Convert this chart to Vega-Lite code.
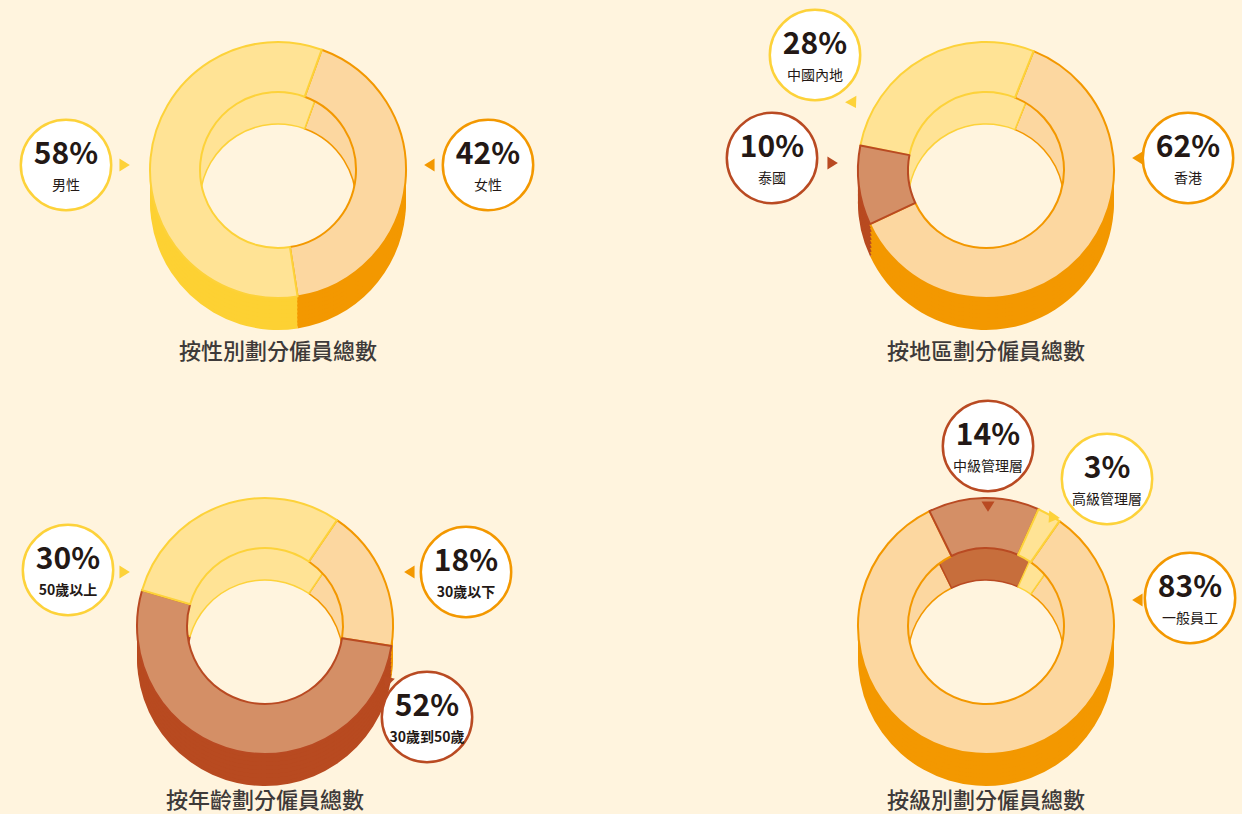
{
  "$schema": "https://vega.github.io/schema/vega-lite/v6.json",
  "background": "#FFF4DE",
  "padding": {"left": 0, "top": 0, "right": 0, "bottom": 24},
  "bounds": "flush",
  "columns": 2,
  "spacing": {"row": 136, "column": 174},
  "config": {
    "view": {"stroke": null},
    "font": "Noto Sans CJK TC",
    "title": {"font": "Noto Sans CJK TC", "fontSize": 22, "fontWeight": 500, "color": "#3E3A39", "anchor": "middle", "baseline": "top"}
  },
  "datasets": {
    "gender": [
      {"category": "女性", "share": 0.42},
      {"category": "男性", "share": 0.58}
    ],
    "region": [
      {"category": "香港", "share": 0.62},
      {"category": "中國內地", "share": 0.28},
      {"category": "泰國", "share": 0.10}
    ],
    "age": [
      {"category": "30歲以下", "share": 0.18},
      {"category": "30歲到50歲", "share": 0.52},
      {"category": "50歲以上", "share": 0.30}
    ],
    "level": [
      {"category": "一般員工", "share": 0.83},
      {"category": "中級管理層", "share": 0.14},
      {"category": "高級管理層", "share": 0.03}
    ]
  },
  "concat": [
    {
      "width": 556, "height": 340,
      "data": {"name": "gender"},
      "title": {"text": "按性別劃分僱員總數", "orient": "bottom", "offset": 2},
      "resolve": {"scale": {"fill": "independent", "stroke": "independent", "x": "independent", "y": "independent", "shape": "independent"}},
      "layer": [
        {"mark": {"type": "arc", "outerRadius": 110, "innerRadius": 78, "yOffset": 32, "strokeWidth": 1.5},
         "encoding": {"theta": {"field": "share", "type": "quantitative", "stack": true, "scale": {"range": [0.349, 6.632]}}, "order": {"field": "share", "sort": "ascending"},
           "fill": {"field": "category", "type": "nominal", "scale": {"domain": ["男性", "女性"], "range": ["#FFE395", "#FCD7A0"]}, "legend": null},
           "stroke": {"field": "category", "type": "nominal", "scale": {"domain": ["男性", "女性"], "range": ["#FDD23A", "#F39800"]}, "legend": null}}},
        {"mark": {"type": "arc", "outerRadius": 128, "innerRadius": 110, "yOffset": 32},
         "encoding": {"theta": {"field": "share", "type": "quantitative", "stack": true, "scale": {"range": [0.349, 6.632]}}, "order": {"field": "share", "sort": "ascending"},
           "fill": {"field": "category", "type": "nominal", "scale": {"domain": ["男性", "女性"], "range": ["#FDD133", "#F39800"]}, "legend": null}}},
        {"mark": {"type": "arc", "outerRadius": 128, "innerRadius": 106, "yOffset": 28},
         "encoding": {"theta": {"field": "share", "type": "quantitative", "stack": true, "scale": {"range": [0.349, 6.632]}}, "order": {"field": "share", "sort": "ascending"},
           "fill": {"field": "category", "type": "nominal", "scale": {"domain": ["男性", "女性"], "range": ["#FDD133", "#F39800"]}, "legend": null}}},
        {"mark": {"type": "arc", "outerRadius": 128, "innerRadius": 102, "yOffset": 24},
         "encoding": {"theta": {"field": "share", "type": "quantitative", "stack": true, "scale": {"range": [0.349, 6.632]}}, "order": {"field": "share", "sort": "ascending"},
           "fill": {"field": "category", "type": "nominal", "scale": {"domain": ["男性", "女性"], "range": ["#FDD133", "#F39800"]}, "legend": null}}},
        {"mark": {"type": "arc", "outerRadius": 128, "innerRadius": 98, "yOffset": 20},
         "encoding": {"theta": {"field": "share", "type": "quantitative", "stack": true, "scale": {"range": [0.349, 6.632]}}, "order": {"field": "share", "sort": "ascending"},
           "fill": {"field": "category", "type": "nominal", "scale": {"domain": ["男性", "女性"], "range": ["#FDD133", "#F39800"]}, "legend": null}}},
        {"mark": {"type": "arc", "outerRadius": 128, "innerRadius": 94, "yOffset": 16},
         "encoding": {"theta": {"field": "share", "type": "quantitative", "stack": true, "scale": {"range": [0.349, 6.632]}}, "order": {"field": "share", "sort": "ascending"},
           "fill": {"field": "category", "type": "nominal", "scale": {"domain": ["男性", "女性"], "range": ["#FDD133", "#F39800"]}, "legend": null}}},
        {"mark": {"type": "arc", "outerRadius": 128, "innerRadius": 90, "yOffset": 12},
         "encoding": {"theta": {"field": "share", "type": "quantitative", "stack": true, "scale": {"range": [0.349, 6.632]}}, "order": {"field": "share", "sort": "ascending"},
           "fill": {"field": "category", "type": "nominal", "scale": {"domain": ["男性", "女性"], "range": ["#FDD133", "#F39800"]}, "legend": null}}},
        {"mark": {"type": "arc", "outerRadius": 128, "innerRadius": 86, "yOffset": 8},
         "encoding": {"theta": {"field": "share", "type": "quantitative", "stack": true, "scale": {"range": [0.349, 6.632]}}, "order": {"field": "share", "sort": "ascending"},
           "fill": {"field": "category", "type": "nominal", "scale": {"domain": ["男性", "女性"], "range": ["#FDD133", "#F39800"]}, "legend": null}}},
        {"mark": {"type": "arc", "outerRadius": 128, "innerRadius": 82, "yOffset": 4},
         "encoding": {"theta": {"field": "share", "type": "quantitative", "stack": true, "scale": {"range": [0.349, 6.632]}}, "order": {"field": "share", "sort": "ascending"},
           "fill": {"field": "category", "type": "nominal", "scale": {"domain": ["男性", "女性"], "range": ["#FDD133", "#F39800"]}, "legend": null}}},
        {"mark": {"type": "arc", "outerRadius": 128, "innerRadius": 78, "strokeWidth": 2, "strokeJoin": "round"},
         "encoding": {"theta": {"field": "share", "type": "quantitative", "stack": true, "scale": {"range": [0.349, 6.632]}}, "order": {"field": "share", "sort": "ascending"},
           "fill": {"field": "category", "type": "nominal", "scale": {"domain": ["男性", "女性"], "range": ["#FFE395", "#FCD7A0"]}, "legend": null},
           "stroke": {"field": "category", "type": "nominal", "scale": {"domain": ["男性", "女性"], "range": ["#FDD23A", "#F39800"]}, "legend": null}}},
        {"mark": {"type": "point", "filled": true, "size": 170, "opacity": 1},
         "encoding": {
           "x": {"field": "share", "type": "quantitative", "scale": {"domain": [0.42, 0.58], "range": [430, 124], "zero": false, "nice": false}, "axis": null},
           "y": {"field": "share", "type": "quantitative", "scale": {"domain": [0.42, 0.58], "range": [165, 165], "zero": false, "nice": false}, "axis": null},
           "shape": {"field": "category", "type": "nominal", "scale": {"domain": ["男性", "女性"], "range": ["M-0.7,-1L0.9,0L-0.7,1Z", "M0.7,-1L-0.9,0L0.7,1Z"]}, "legend": null},
           "fill": {"field": "category", "type": "nominal", "scale": {"domain": ["男性", "女性"], "range": ["#FDD23A", "#F39800"]}, "legend": null}}},
        {"mark": {"type": "point", "shape": "circle", "filled": true, "fill": "#FFFFFF", "size": 8171, "strokeWidth": 2.5, "opacity": 1},
         "encoding": {
           "x": {"field": "share", "type": "quantitative", "scale": {"domain": [0.42, 0.58], "range": [488, 66], "zero": false, "nice": false}, "axis": null},
           "y": {"field": "share", "type": "quantitative", "scale": {"domain": [0.42, 0.58], "range": [165, 165], "zero": false, "nice": false}, "axis": null},
           "stroke": {"field": "category", "type": "nominal", "scale": {"domain": ["男性", "女性"], "range": ["#FDD23A", "#F39800"]}, "legend": null}}},
        {"mark": {"type": "text", "fontSize": 30, "fontWeight": "bold", "color": "#231815", "dy": -10, "align": "center", "baseline": "middle"},
         "encoding": {
           "x": {"field": "share", "type": "quantitative", "scale": {"domain": [0.42, 0.58], "range": [488, 66], "zero": false, "nice": false}, "axis": null},
           "y": {"field": "share", "type": "quantitative", "scale": {"domain": [0.42, 0.58], "range": [165, 165], "zero": false, "nice": false}, "axis": null},
           "text": {"field": "share", "type": "quantitative", "format": ".0%"}}},
        {"mark": {"type": "text", "fontSize": 14, "color": "#231815", "dy": 21, "align": "center", "baseline": "middle"},
         "encoding": {
           "x": {"field": "share", "type": "quantitative", "scale": {"domain": [0.42, 0.58], "range": [488, 66], "zero": false, "nice": false}, "axis": null},
           "y": {"field": "share", "type": "quantitative", "scale": {"domain": [0.42, 0.58], "range": [165, 165], "zero": false, "nice": false}, "axis": null},
           "text": {"field": "category", "type": "nominal"}}}
      ]
    },
    {
      "width": 512, "height": 340,
      "data": {"name": "region"},
      "title": {"text": "按地區劃分僱員總數", "orient": "bottom", "offset": 2},
      "resolve": {"scale": {"fill": "independent", "stroke": "independent", "x": "independent", "y": "independent", "shape": "independent"}},
      "layer": [
        {"mark": {"type": "arc", "outerRadius": 110, "innerRadius": 78, "yOffset": 32, "strokeWidth": 1.5},
         "encoding": {"theta": {"field": "share", "type": "quantitative", "stack": true, "scale": {"range": [-2.007, 4.276]}}, "order": {"field": "share", "sort": "ascending"},
           "fill": {"field": "category", "type": "nominal", "scale": {"domain": ["香港", "中國內地", "泰國"], "range": ["#FCD7A0", "#FFE395", "#C76E3C"]}, "legend": null},
           "stroke": {"field": "category", "type": "nominal", "scale": {"domain": ["香港", "中國內地", "泰國"], "range": ["#F39800", "#FDD23A", "#B94A22"]}, "legend": null}}},
        {"mark": {"type": "arc", "outerRadius": 128, "innerRadius": 110, "yOffset": 32},
         "encoding": {"theta": {"field": "share", "type": "quantitative", "stack": true, "scale": {"range": [-2.007, 4.276]}}, "order": {"field": "share", "sort": "ascending"},
           "fill": {"field": "category", "type": "nominal", "scale": {"domain": ["香港", "中國內地", "泰國"], "range": ["#F39800", "#FDD133", "#B84A20"]}, "legend": null}}},
        {"mark": {"type": "arc", "outerRadius": 128, "innerRadius": 106, "yOffset": 28},
         "encoding": {"theta": {"field": "share", "type": "quantitative", "stack": true, "scale": {"range": [-2.007, 4.276]}}, "order": {"field": "share", "sort": "ascending"},
           "fill": {"field": "category", "type": "nominal", "scale": {"domain": ["香港", "中國內地", "泰國"], "range": ["#F39800", "#FDD133", "#B84A20"]}, "legend": null}}},
        {"mark": {"type": "arc", "outerRadius": 128, "innerRadius": 102, "yOffset": 24},
         "encoding": {"theta": {"field": "share", "type": "quantitative", "stack": true, "scale": {"range": [-2.007, 4.276]}}, "order": {"field": "share", "sort": "ascending"},
           "fill": {"field": "category", "type": "nominal", "scale": {"domain": ["香港", "中國內地", "泰國"], "range": ["#F39800", "#FDD133", "#B84A20"]}, "legend": null}}},
        {"mark": {"type": "arc", "outerRadius": 128, "innerRadius": 98, "yOffset": 20},
         "encoding": {"theta": {"field": "share", "type": "quantitative", "stack": true, "scale": {"range": [-2.007, 4.276]}}, "order": {"field": "share", "sort": "ascending"},
           "fill": {"field": "category", "type": "nominal", "scale": {"domain": ["香港", "中國內地", "泰國"], "range": ["#F39800", "#FDD133", "#B84A20"]}, "legend": null}}},
        {"mark": {"type": "arc", "outerRadius": 128, "innerRadius": 94, "yOffset": 16},
         "encoding": {"theta": {"field": "share", "type": "quantitative", "stack": true, "scale": {"range": [-2.007, 4.276]}}, "order": {"field": "share", "sort": "ascending"},
           "fill": {"field": "category", "type": "nominal", "scale": {"domain": ["香港", "中國內地", "泰國"], "range": ["#F39800", "#FDD133", "#B84A20"]}, "legend": null}}},
        {"mark": {"type": "arc", "outerRadius": 128, "innerRadius": 90, "yOffset": 12},
         "encoding": {"theta": {"field": "share", "type": "quantitative", "stack": true, "scale": {"range": [-2.007, 4.276]}}, "order": {"field": "share", "sort": "ascending"},
           "fill": {"field": "category", "type": "nominal", "scale": {"domain": ["香港", "中國內地", "泰國"], "range": ["#F39800", "#FDD133", "#B84A20"]}, "legend": null}}},
        {"mark": {"type": "arc", "outerRadius": 128, "innerRadius": 86, "yOffset": 8},
         "encoding": {"theta": {"field": "share", "type": "quantitative", "stack": true, "scale": {"range": [-2.007, 4.276]}}, "order": {"field": "share", "sort": "ascending"},
           "fill": {"field": "category", "type": "nominal", "scale": {"domain": ["香港", "中國內地", "泰國"], "range": ["#F39800", "#FDD133", "#B84A20"]}, "legend": null}}},
        {"mark": {"type": "arc", "outerRadius": 128, "innerRadius": 82, "yOffset": 4},
         "encoding": {"theta": {"field": "share", "type": "quantitative", "stack": true, "scale": {"range": [-2.007, 4.276]}}, "order": {"field": "share", "sort": "ascending"},
           "fill": {"field": "category", "type": "nominal", "scale": {"domain": ["香港", "中國內地", "泰國"], "range": ["#F39800", "#FDD133", "#B84A20"]}, "legend": null}}},
        {"mark": {"type": "arc", "outerRadius": 128, "innerRadius": 78, "strokeWidth": 2, "strokeJoin": "round"},
         "encoding": {"theta": {"field": "share", "type": "quantitative", "stack": true, "scale": {"range": [-2.007, 4.276]}}, "order": {"field": "share", "sort": "ascending"},
           "fill": {"field": "category", "type": "nominal", "scale": {"domain": ["香港", "中國內地", "泰國"], "range": ["#FCD7A0", "#FFE395", "#D48F66"]}, "legend": null},
           "stroke": {"field": "category", "type": "nominal", "scale": {"domain": ["香港", "中國內地", "泰國"], "range": ["#F39800", "#FDD23A", "#B94A22"]}, "legend": null}}},
        {"mark": {"type": "point", "filled": true, "size": 170, "opacity": 1},
         "encoding": {
           "x": {"field": "share", "type": "quantitative", "scale": {"domain": [0.10, 0.28, 0.62], "range": [102, 123, 408], "zero": false, "nice": false}, "axis": null},
           "y": {"field": "share", "type": "quantitative", "scale": {"domain": [0.10, 0.28, 0.62], "range": [163, 103, 158], "zero": false, "nice": false}, "axis": null},
           "shape": {"field": "category", "type": "nominal", "scale": {"domain": ["香港", "中國內地", "泰國"], "range": ["M0.7,-1L-0.9,0L0.7,1Z", "M0.45,0.78L-1.22,-0.11L0.52,-1.11Z", "M-0.7,-1L0.9,0L-0.7,1Z"]}, "legend": null},
           "fill": {"field": "category", "type": "nominal", "scale": {"domain": ["香港", "中國內地", "泰國"], "range": ["#F39800", "#FDD23A", "#B94A22"]}, "legend": null}}},
        {"mark": {"type": "point", "shape": "circle", "filled": true, "fill": "#FFFFFF", "size": 8171, "strokeWidth": 2.5, "opacity": 1},
         "encoding": {
           "x": {"field": "share", "type": "quantitative", "scale": {"domain": [0.10, 0.28, 0.62], "range": [42, 85, 458], "zero": false, "nice": false}, "axis": null},
           "y": {"field": "share", "type": "quantitative", "scale": {"domain": [0.10, 0.28, 0.62], "range": [158, 55, 158], "zero": false, "nice": false}, "axis": null},
           "stroke": {"field": "category", "type": "nominal", "scale": {"domain": ["香港", "中國內地", "泰國"], "range": ["#F39800", "#FDD23A", "#B94A22"]}, "legend": null}}},
        {"mark": {"type": "text", "fontSize": 30, "fontWeight": "bold", "color": "#231815", "dy": -10, "align": "center", "baseline": "middle"},
         "encoding": {
           "x": {"field": "share", "type": "quantitative", "scale": {"domain": [0.10, 0.28, 0.62], "range": [42, 85, 458], "zero": false, "nice": false}, "axis": null},
           "y": {"field": "share", "type": "quantitative", "scale": {"domain": [0.10, 0.28, 0.62], "range": [158, 55, 158], "zero": false, "nice": false}, "axis": null},
           "text": {"field": "share", "type": "quantitative", "format": ".0%"}}},
        {"mark": {"type": "text", "fontSize": 14, "color": "#231815", "dy": 21, "align": "center", "baseline": "middle"},
         "encoding": {
           "x": {"field": "share", "type": "quantitative", "scale": {"domain": [0.10, 0.28, 0.62], "range": [42, 85, 458], "zero": false, "nice": false}, "axis": null},
           "y": {"field": "share", "type": "quantitative", "scale": {"domain": [0.10, 0.28, 0.62], "range": [158, 55, 158], "zero": false, "nice": false}, "axis": null},
           "text": {"field": "category", "type": "nominal"}}}
      ]
    },
    {
      "width": 530, "height": 300,
      "data": {"name": "age"},
      "title": {"text": "按年齡劃分僱員總數", "orient": "bottom", "offset": 5},
      "resolve": {"scale": {"fill": "independent", "stroke": "independent", "x": "independent", "y": "independent", "shape": "independent"}},
      "layer": [
        {"mark": {"type": "arc", "outerRadius": 110, "innerRadius": 78, "yOffset": 32, "strokeWidth": 1.5},
         "encoding": {"theta": {"field": "share", "type": "quantitative", "stack": true, "scale": {"range": [1.728, 8.011]}}, "order": {"field": "share", "sort": "descending"},
           "fill": {"field": "category", "type": "nominal", "scale": {"domain": ["30歲以下", "30歲到50歲", "50歲以上"], "range": ["#FCD7A0", "#C76E3C", "#FFE395"]}, "legend": null},
           "stroke": {"field": "category", "type": "nominal", "scale": {"domain": ["30歲以下", "30歲到50歲", "50歲以上"], "range": ["#F39800", "#B94A22", "#FDD23A"]}, "legend": null}}},
        {"mark": {"type": "arc", "outerRadius": 128, "innerRadius": 110, "yOffset": 32},
         "encoding": {"theta": {"field": "share", "type": "quantitative", "stack": true, "scale": {"range": [1.728, 8.011]}}, "order": {"field": "share", "sort": "descending"},
           "fill": {"field": "category", "type": "nominal", "scale": {"domain": ["30歲以下", "30歲到50歲", "50歲以上"], "range": ["#F39800", "#B84A20", "#FDD133"]}, "legend": null}}},
        {"mark": {"type": "arc", "outerRadius": 128, "innerRadius": 106, "yOffset": 28},
         "encoding": {"theta": {"field": "share", "type": "quantitative", "stack": true, "scale": {"range": [1.728, 8.011]}}, "order": {"field": "share", "sort": "descending"},
           "fill": {"field": "category", "type": "nominal", "scale": {"domain": ["30歲以下", "30歲到50歲", "50歲以上"], "range": ["#F39800", "#B84A20", "#FDD133"]}, "legend": null}}},
        {"mark": {"type": "arc", "outerRadius": 128, "innerRadius": 102, "yOffset": 24},
         "encoding": {"theta": {"field": "share", "type": "quantitative", "stack": true, "scale": {"range": [1.728, 8.011]}}, "order": {"field": "share", "sort": "descending"},
           "fill": {"field": "category", "type": "nominal", "scale": {"domain": ["30歲以下", "30歲到50歲", "50歲以上"], "range": ["#F39800", "#B84A20", "#FDD133"]}, "legend": null}}},
        {"mark": {"type": "arc", "outerRadius": 128, "innerRadius": 98, "yOffset": 20},
         "encoding": {"theta": {"field": "share", "type": "quantitative", "stack": true, "scale": {"range": [1.728, 8.011]}}, "order": {"field": "share", "sort": "descending"},
           "fill": {"field": "category", "type": "nominal", "scale": {"domain": ["30歲以下", "30歲到50歲", "50歲以上"], "range": ["#F39800", "#B84A20", "#FDD133"]}, "legend": null}}},
        {"mark": {"type": "arc", "outerRadius": 128, "innerRadius": 94, "yOffset": 16},
         "encoding": {"theta": {"field": "share", "type": "quantitative", "stack": true, "scale": {"range": [1.728, 8.011]}}, "order": {"field": "share", "sort": "descending"},
           "fill": {"field": "category", "type": "nominal", "scale": {"domain": ["30歲以下", "30歲到50歲", "50歲以上"], "range": ["#F39800", "#B84A20", "#FDD133"]}, "legend": null}}},
        {"mark": {"type": "arc", "outerRadius": 128, "innerRadius": 90, "yOffset": 12},
         "encoding": {"theta": {"field": "share", "type": "quantitative", "stack": true, "scale": {"range": [1.728, 8.011]}}, "order": {"field": "share", "sort": "descending"},
           "fill": {"field": "category", "type": "nominal", "scale": {"domain": ["30歲以下", "30歲到50歲", "50歲以上"], "range": ["#F39800", "#B84A20", "#FDD133"]}, "legend": null}}},
        {"mark": {"type": "arc", "outerRadius": 128, "innerRadius": 86, "yOffset": 8},
         "encoding": {"theta": {"field": "share", "type": "quantitative", "stack": true, "scale": {"range": [1.728, 8.011]}}, "order": {"field": "share", "sort": "descending"},
           "fill": {"field": "category", "type": "nominal", "scale": {"domain": ["30歲以下", "30歲到50歲", "50歲以上"], "range": ["#F39800", "#B84A20", "#FDD133"]}, "legend": null}}},
        {"mark": {"type": "arc", "outerRadius": 128, "innerRadius": 82, "yOffset": 4},
         "encoding": {"theta": {"field": "share", "type": "quantitative", "stack": true, "scale": {"range": [1.728, 8.011]}}, "order": {"field": "share", "sort": "descending"},
           "fill": {"field": "category", "type": "nominal", "scale": {"domain": ["30歲以下", "30歲到50歲", "50歲以上"], "range": ["#F39800", "#B84A20", "#FDD133"]}, "legend": null}}},
        {"mark": {"type": "arc", "outerRadius": 128, "innerRadius": 78, "strokeWidth": 2, "strokeJoin": "round"},
         "encoding": {"theta": {"field": "share", "type": "quantitative", "stack": true, "scale": {"range": [1.728, 8.011]}}, "order": {"field": "share", "sort": "descending"},
           "fill": {"field": "category", "type": "nominal", "scale": {"domain": ["30歲以下", "30歲到50歲", "50歲以上"], "range": ["#FCD7A0", "#D48F66", "#FFE395"]}, "legend": null},
           "stroke": {"field": "category", "type": "nominal", "scale": {"domain": ["30歲以下", "30歲到50歲", "50歲以上"], "range": ["#F39800", "#B94A22", "#FDD23A"]}, "legend": null}}},
        {"mark": {"type": "point", "filled": true, "size": 170, "opacity": 1},
         "encoding": {
           "x": {"field": "share", "type": "quantitative", "scale": {"domain": [0.18, 0.30, 0.52], "range": [410, 124, 387], "zero": false, "nice": false}, "axis": null},
           "y": {"field": "share", "type": "quantitative", "scale": {"domain": [0.18, 0.30, 0.52], "range": [96, 96, 204], "zero": false, "nice": false}, "axis": null},
           "shape": {"field": "category", "type": "nominal", "scale": {"domain": ["30歲以下", "30歲到50歲", "50歲以上"], "range": ["M0.7,-1L-0.9,0L0.7,1Z", "M-0.64,-0.64L1.2,-0.21L-0.21,1.2Z", "M-0.7,-1L0.9,0L-0.7,1Z"]}, "legend": null},
           "fill": {"field": "category", "type": "nominal", "scale": {"domain": ["30歲以下", "30歲到50歲", "50歲以上"], "range": ["#F39800", "#B94A22", "#FDD23A"]}, "legend": null}}},
        {"mark": {"type": "point", "shape": "circle", "filled": true, "fill": "#FFFFFF", "size": 8171, "strokeWidth": 2.5, "opacity": 1},
         "encoding": {
           "x": {"field": "share", "type": "quantitative", "scale": {"domain": [0.18, 0.30, 0.52], "range": [466, 68, 427], "zero": false, "nice": false}, "axis": null},
           "y": {"field": "share", "type": "quantitative", "scale": {"domain": [0.18, 0.30, 0.52], "range": [96, 94, 241], "zero": false, "nice": false}, "axis": null},
           "stroke": {"field": "category", "type": "nominal", "scale": {"domain": ["30歲以下", "30歲到50歲", "50歲以上"], "range": ["#F39800", "#B94A22", "#FDD23A"]}, "legend": null}}},
        {"mark": {"type": "text", "fontSize": 30, "fontWeight": "bold", "color": "#231815", "dy": -10, "align": "center", "baseline": "middle"},
         "encoding": {
           "x": {"field": "share", "type": "quantitative", "scale": {"domain": [0.18, 0.30, 0.52], "range": [466, 68, 427], "zero": false, "nice": false}, "axis": null},
           "y": {"field": "share", "type": "quantitative", "scale": {"domain": [0.18, 0.30, 0.52], "range": [96, 94, 241], "zero": false, "nice": false}, "axis": null},
           "text": {"field": "share", "type": "quantitative", "format": ".0%"}}},
        {"mark": {"type": "text", "fontSize": 14, "fontWeight": "bold", "color": "#231815", "dy": 21, "align": "center", "baseline": "middle"},
         "encoding": {
           "x": {"field": "share", "type": "quantitative", "scale": {"domain": [0.18, 0.30, 0.52], "range": [466, 68, 427], "zero": false, "nice": false}, "axis": null},
           "y": {"field": "share", "type": "quantitative", "scale": {"domain": [0.18, 0.30, 0.52], "range": [96, 94, 241], "zero": false, "nice": false}, "axis": null},
           "text": {"field": "category", "type": "nominal"}}}
      ]
    },
    {
      "width": 512, "height": 300,
      "data": {"name": "level"},
      "title": {"text": "按級別劃分僱員總數", "orient": "bottom", "offset": 5},
      "resolve": {"scale": {"fill": "independent", "stroke": "independent", "x": "independent", "y": "independent", "shape": "independent"}},
      "layer": [
        {"mark": {"type": "arc", "outerRadius": 110, "innerRadius": 78, "yOffset": 32, "strokeWidth": 1.5},
         "encoding": {"theta": {"field": "share", "type": "quantitative", "stack": true, "scale": {"range": [0.611, 6.894]}}, "order": {"field": "share", "sort": "descending"},
           "fill": {"field": "category", "type": "nominal", "scale": {"domain": ["一般員工", "中級管理層", "高級管理層"], "range": ["#FCD7A0", "#C76E3C", "#FFE395"]}, "legend": null},
           "stroke": {"field": "category", "type": "nominal", "scale": {"domain": ["一般員工", "中級管理層", "高級管理層"], "range": ["#F39800", "#B94A22", "#FDD23A"]}, "legend": null}}},
        {"mark": {"type": "arc", "outerRadius": 128, "innerRadius": 110, "yOffset": 32},
         "encoding": {"theta": {"field": "share", "type": "quantitative", "stack": true, "scale": {"range": [0.611, 6.894]}}, "order": {"field": "share", "sort": "descending"},
           "fill": {"field": "category", "type": "nominal", "scale": {"domain": ["一般員工", "中級管理層", "高級管理層"], "range": ["#F39800", "#B84A20", "#FDD133"]}, "legend": null}}},
        {"mark": {"type": "arc", "outerRadius": 128, "innerRadius": 106, "yOffset": 28},
         "encoding": {"theta": {"field": "share", "type": "quantitative", "stack": true, "scale": {"range": [0.611, 6.894]}}, "order": {"field": "share", "sort": "descending"},
           "fill": {"field": "category", "type": "nominal", "scale": {"domain": ["一般員工", "中級管理層", "高級管理層"], "range": ["#F39800", "#B84A20", "#FDD133"]}, "legend": null}}},
        {"mark": {"type": "arc", "outerRadius": 128, "innerRadius": 102, "yOffset": 24},
         "encoding": {"theta": {"field": "share", "type": "quantitative", "stack": true, "scale": {"range": [0.611, 6.894]}}, "order": {"field": "share", "sort": "descending"},
           "fill": {"field": "category", "type": "nominal", "scale": {"domain": ["一般員工", "中級管理層", "高級管理層"], "range": ["#F39800", "#B84A20", "#FDD133"]}, "legend": null}}},
        {"mark": {"type": "arc", "outerRadius": 128, "innerRadius": 98, "yOffset": 20},
         "encoding": {"theta": {"field": "share", "type": "quantitative", "stack": true, "scale": {"range": [0.611, 6.894]}}, "order": {"field": "share", "sort": "descending"},
           "fill": {"field": "category", "type": "nominal", "scale": {"domain": ["一般員工", "中級管理層", "高級管理層"], "range": ["#F39800", "#B84A20", "#FDD133"]}, "legend": null}}},
        {"mark": {"type": "arc", "outerRadius": 128, "innerRadius": 94, "yOffset": 16},
         "encoding": {"theta": {"field": "share", "type": "quantitative", "stack": true, "scale": {"range": [0.611, 6.894]}}, "order": {"field": "share", "sort": "descending"},
           "fill": {"field": "category", "type": "nominal", "scale": {"domain": ["一般員工", "中級管理層", "高級管理層"], "range": ["#F39800", "#B84A20", "#FDD133"]}, "legend": null}}},
        {"mark": {"type": "arc", "outerRadius": 128, "innerRadius": 90, "yOffset": 12},
         "encoding": {"theta": {"field": "share", "type": "quantitative", "stack": true, "scale": {"range": [0.611, 6.894]}}, "order": {"field": "share", "sort": "descending"},
           "fill": {"field": "category", "type": "nominal", "scale": {"domain": ["一般員工", "中級管理層", "高級管理層"], "range": ["#F39800", "#B84A20", "#FDD133"]}, "legend": null}}},
        {"mark": {"type": "arc", "outerRadius": 128, "innerRadius": 86, "yOffset": 8},
         "encoding": {"theta": {"field": "share", "type": "quantitative", "stack": true, "scale": {"range": [0.611, 6.894]}}, "order": {"field": "share", "sort": "descending"},
           "fill": {"field": "category", "type": "nominal", "scale": {"domain": ["一般員工", "中級管理層", "高級管理層"], "range": ["#F39800", "#B84A20", "#FDD133"]}, "legend": null}}},
        {"mark": {"type": "arc", "outerRadius": 128, "innerRadius": 82, "yOffset": 4},
         "encoding": {"theta": {"field": "share", "type": "quantitative", "stack": true, "scale": {"range": [0.611, 6.894]}}, "order": {"field": "share", "sort": "descending"},
           "fill": {"field": "category", "type": "nominal", "scale": {"domain": ["一般員工", "中級管理層", "高級管理層"], "range": ["#F39800", "#B84A20", "#FDD133"]}, "legend": null}}},
        {"mark": {"type": "arc", "outerRadius": 128, "innerRadius": 78, "strokeWidth": 2, "strokeJoin": "round"},
         "encoding": {"theta": {"field": "share", "type": "quantitative", "stack": true, "scale": {"range": [0.611, 6.894]}}, "order": {"field": "share", "sort": "descending"},
           "fill": {"field": "category", "type": "nominal", "scale": {"domain": ["一般員工", "中級管理層", "高級管理層"], "range": ["#FCD7A0", "#D48F66", "#FFE395"]}, "legend": null},
           "stroke": {"field": "category", "type": "nominal", "scale": {"domain": ["一般員工", "中級管理層", "高級管理層"], "range": ["#F39800", "#B94A22", "#FDD23A"]}, "legend": null}}},
        {"mark": {"type": "point", "filled": true, "size": 170, "opacity": 1},
         "encoding": {
           "x": {"field": "share", "type": "quantitative", "scale": {"domain": [0.03, 0.14, 0.83], "range": [322, 258, 408], "zero": false, "nice": false}, "axis": null},
           "y": {"field": "share", "type": "quantitative", "scale": {"domain": [0.03, 0.14, 0.83], "range": [42, 30, 124], "zero": false, "nice": false}, "axis": null},
           "shape": {"field": "category", "type": "nominal", "scale": {"domain": ["一般員工", "中級管理層", "高級管理層"], "range": ["M0.7,-1L-0.9,0L0.7,1Z", "M-1,-0.7L0,0.9L1,-0.7Z", "M-0.52,0.74L-0.42,-1.15L1.22,0Z"]}, "legend": null},
           "fill": {"field": "category", "type": "nominal", "scale": {"domain": ["一般員工", "中級管理層", "高級管理層"], "range": ["#F39800", "#B94A22", "#FDD23A"]}, "legend": null}}},
        {"mark": {"type": "point", "shape": "circle", "filled": true, "fill": "#FFFFFF", "size": 8171, "strokeWidth": 2.5, "opacity": 1},
         "encoding": {
           "x": {"field": "share", "type": "quantitative", "scale": {"domain": [0.03, 0.14, 0.83], "range": [377, 258, 460], "zero": false, "nice": false}, "axis": null},
           "y": {"field": "share", "type": "quantitative", "scale": {"domain": [0.03, 0.14, 0.83], "range": [3, -30, 122], "zero": false, "nice": false}, "axis": null},
           "stroke": {"field": "category", "type": "nominal", "scale": {"domain": ["一般員工", "中級管理層", "高級管理層"], "range": ["#F39800", "#B94A22", "#FDD23A"]}, "legend": null}}},
        {"mark": {"type": "text", "fontSize": 30, "fontWeight": "bold", "color": "#231815", "dy": -10, "align": "center", "baseline": "middle"},
         "encoding": {
           "x": {"field": "share", "type": "quantitative", "scale": {"domain": [0.03, 0.14, 0.83], "range": [377, 258, 460], "zero": false, "nice": false}, "axis": null},
           "y": {"field": "share", "type": "quantitative", "scale": {"domain": [0.03, 0.14, 0.83], "range": [3, -30, 122], "zero": false, "nice": false}, "axis": null},
           "text": {"field": "share", "type": "quantitative", "format": ".0%"}}},
        {"mark": {"type": "text", "fontSize": 14, "color": "#231815", "dy": 21, "align": "center", "baseline": "middle"},
         "encoding": {
           "x": {"field": "share", "type": "quantitative", "scale": {"domain": [0.03, 0.14, 0.83], "range": [377, 258, 460], "zero": false, "nice": false}, "axis": null},
           "y": {"field": "share", "type": "quantitative", "scale": {"domain": [0.03, 0.14, 0.83], "range": [3, -30, 122], "zero": false, "nice": false}, "axis": null},
           "text": {"field": "category", "type": "nominal"}}}
      ]
    }
  ]
}
